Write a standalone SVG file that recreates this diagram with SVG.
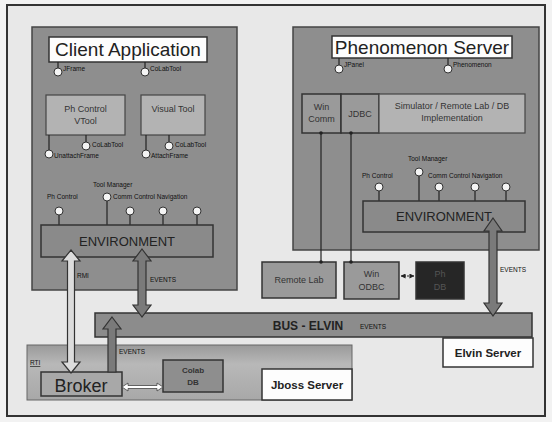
<svg xmlns="http://www.w3.org/2000/svg" width="552" height="422" viewBox="0 0 552 422">
  <style>
    text { font-family: "Liberation Sans", Arial, sans-serif; fill: #222; }
    .pane { fill: #8e8e8e; stroke: #444; stroke-width: 1.5; }
    .title { fill: #fdfdfd; stroke: #333; stroke-width: 1.5; }
    .comp { fill: #b3b3b3; stroke: #444; stroke-width: 1.2; }
    .env { fill: #8a8a8a; stroke: #333; stroke-width: 1.5; }
    .box { fill: #9a9a9a; stroke: #333; stroke-width: 1.5; }
    .lolli { fill: #f4f4f4; stroke: #333; stroke-width: 1; }
    .stem { stroke: #222; stroke-width: 1.2; fill: none; }
    .tiny { font-size: 6.5px; fill: #111; }
    .big { font-size: 19px; }
    .mid { font-size: 9px; text-anchor: middle; fill: #333; }
    .envt { font-size: 13px; text-anchor: middle; fill: #222; }
    .lab { font-size: 11.5px; font-weight: bold; text-anchor: middle; fill: #222; }
    .grayarrow { fill: #7a7a7a; stroke: #333; stroke-width: 1.2; }
    .lightarrow { fill: #dcdcdc; stroke: #333; stroke-width: 1.2; }
  </style>
  <defs>
    <linearGradient id="jbossGrad" x1="0" y1="0" x2="0" y2="1">
      <stop offset="0" stop-color="#9a9a9a"/>
      <stop offset="0.35" stop-color="#b8b8b8"/>
      <stop offset="1" stop-color="#a8a8a8"/>
    </linearGradient>
    <marker id="tip" viewBox="0 0 6 6" refX="5.5" refY="3" markerWidth="5" markerHeight="5" orient="auto-start-reverse">
      <path d="M0,0 L6,3 L0,6 z" fill="#222"/>
    </marker>
    <marker id="dot" viewBox="0 0 4 4" refX="2" refY="2" markerWidth="3" markerHeight="3">
      <circle cx="2" cy="2" r="2" fill="#222"/>
    </marker>
  </defs>

  <!-- page and frame -->
  <rect x="0" y="0" width="552" height="422" fill="#f2f2f2"/>
  <rect x="7" y="5" width="538" height="411" fill="#e8e8e8" stroke="#333" stroke-width="2"/>

  <!-- Client Application -->
  <g id="client-application">
    <rect class="pane" x="32" y="27" width="205" height="263"/>
    <rect class="title" x="49" y="37" width="158" height="25"/>
    <text class="big" x="128" y="56" text-anchor="middle">Client Application</text>
    <line class="stem" x1="58" y1="62" x2="58" y2="68"/>
    <circle class="lolli" cx="58" cy="72" r="4"/>
    <text class="tiny" x="63" y="71">JFrame</text>
    <line class="stem" x1="145" y1="62" x2="145" y2="68"/>
    <circle class="lolli" cx="145" cy="72" r="4"/>
    <text class="tiny" x="150" y="71">CoLabTool</text>
  </g>

  <g id="ph-control-vtool">
    <rect class="comp" x="46" y="95" width="79" height="40"/>
    <text class="mid" x="85.5" y="112">Ph Control</text>
    <text class="mid" x="85.5" y="124">VTool</text>
    <line class="stem" x1="49" y1="135" x2="49" y2="150"/>
    <circle class="lolli" cx="49" cy="154" r="4"/>
    <text class="tiny" x="54" y="158">UnattachFrame</text>
    <line class="stem" x1="86" y1="135" x2="86" y2="142"/>
    <circle class="lolli" cx="86" cy="146" r="4"/>
    <text class="tiny" x="92" y="147">CoLabTool</text>
  </g>

  <g id="visual-tool">
    <rect class="comp" x="141" y="95" width="64" height="40"/>
    <text class="mid" x="173" y="112">Visual Tool</text>
    <line class="stem" x1="146" y1="135" x2="146" y2="150"/>
    <circle class="lolli" cx="146" cy="154" r="4"/>
    <text class="tiny" x="151" y="158">AttachFrame</text>
    <line class="stem" x1="169" y1="135" x2="169" y2="142"/>
    <circle class="lolli" cx="169" cy="146" r="4"/>
    <text class="tiny" x="175" y="147">CoLabTool</text>
  </g>

  <g id="client-environment">
    <text class="tiny" x="93" y="187">Tool Manager</text>
    <text class="tiny" x="47" y="199">Ph Control</text>
    <text class="tiny" x="113" y="199">Comm  Control  Navigation</text>
    <line class="stem" x1="107" y1="201" x2="107" y2="225"/>
    <circle class="lolli" cx="107" cy="197" r="4"/>
    <line class="stem" x1="59" y1="215" x2="59" y2="225"/>
    <circle class="lolli" cx="59" cy="211" r="4"/>
    <line class="stem" x1="130" y1="215" x2="130" y2="225"/>
    <circle class="lolli" cx="130" cy="211" r="4"/>
    <line class="stem" x1="163" y1="215" x2="163" y2="225"/>
    <circle class="lolli" cx="163" cy="211" r="4"/>
    <line class="stem" x1="197" y1="215" x2="197" y2="225"/>
    <circle class="lolli" cx="197" cy="211" r="4"/>
    <rect class="env" x="41" y="225" width="172" height="32"/>
    <text class="envt" x="127" y="246">ENVIRONMENT</text>
  </g>

  <!-- Phenomenon Server -->
  <g id="phenomenon-server">
    <rect class="pane" x="293" y="27" width="246" height="223"/>
    <rect class="title" x="332" y="36" width="180" height="22"/>
    <text class="big" x="422" y="54" text-anchor="middle">Phenomenon Server</text>
    <line class="stem" x1="339" y1="58" x2="339" y2="65"/>
    <circle class="lolli" cx="339" cy="69" r="4"/>
    <text class="tiny" x="344" y="67">JPanel</text>
    <line class="stem" x1="448" y1="58" x2="448" y2="65"/>
    <circle class="lolli" cx="448" cy="69" r="4"/>
    <text class="tiny" x="453" y="67">Phenomenon</text>
  </g>

  <g id="win-comm">
    <rect class="box" x="302" y="94" width="39" height="39"/>
    <text class="mid" x="321.5" y="110">Win</text>
    <text class="mid" x="321.5" y="122">Comm</text>
  </g>
  <g id="jdbc">
    <rect class="box" x="341" y="94" width="38" height="39"/>
    <text class="mid" x="360" y="117">JDBC</text>
  </g>
  <g id="simulator">
    <rect class="comp" x="379" y="94" width="146" height="39"/>
    <text class="mid" x="452" y="109">Simulator / Remote Lab / DB</text>
    <text class="mid" x="452" y="121">Implementation</text>
  </g>

  <g id="phenomenon-environment">
    <text class="tiny" x="408" y="161">Tool Manager</text>
    <text class="tiny" x="362" y="178">Ph Control</text>
    <text class="tiny" x="428" y="178">Comm  Control  Navigation</text>
    <line class="stem" x1="419" y1="176" x2="419" y2="201"/>
    <circle class="lolli" cx="419" cy="172" r="4"/>
    <line class="stem" x1="379" y1="191" x2="379" y2="201"/>
    <circle class="lolli" cx="379" cy="187" r="4"/>
    <line class="stem" x1="439" y1="191" x2="439" y2="201"/>
    <circle class="lolli" cx="439" cy="187" r="4"/>
    <line class="stem" x1="475" y1="191" x2="475" y2="201"/>
    <circle class="lolli" cx="475" cy="187" r="4"/>
    <line class="stem" x1="506" y1="191" x2="506" y2="201"/>
    <circle class="lolli" cx="506" cy="187" r="4"/>
    <rect class="env" x="363" y="201" width="162" height="31"/>
    <text class="envt" x="444" y="221">ENVIRONMENT</text>
  </g>

  <g id="remote-lab">
    <rect class="box" x="262" y="262" width="74" height="36"/>
    <text class="mid" x="299" y="283">Remote Lab</text>
  </g>
  <g id="win-odbc">
    <rect class="box" x="344" y="262" width="55" height="37"/>
    <text class="mid" x="371.5" y="277">Win</text>
    <text class="mid" x="371.5" y="290">ODBC</text>
  </g>
  <g id="ph-db">
    <rect x="416" y="262" width="48" height="37" fill="#262626" stroke="#333" stroke-width="1.5"/>
    <text class="mid" x="440" y="277" style="fill:#555">Ph</text>
    <text class="mid" x="440" y="290" style="fill:#555">DB</text>
  </g>

  <!-- Elvin bus -->
  <g id="bus-elvin">
    <rect x="95" y="313" width="437" height="24" fill="#8c8c8c" stroke="#333" stroke-width="1.5"/>
    <text x="308" y="330" font-size="12" font-weight="bold" text-anchor="middle" fill="#222">BUS - ELVIN</text>
    <text class="tiny" x="360" y="329">EVENTS</text>
  </g>
  <g id="elvin-server">
    <rect class="title" x="443" y="338" width="90" height="29"/>
    <text class="lab" x="488" y="357">Elvin Server</text>
  </g>

  <!-- Jboss server band -->
  <g id="jboss">
    <rect x="27" y="345" width="325" height="55" fill="url(#jbossGrad)" stroke="#666" stroke-width="1"/>
    <text class="tiny" x="30" y="365" text-decoration="underline">RTI</text>
  </g>
  <g id="jboss-server">
    <rect class="title" x="262" y="369" width="90" height="31"/>
    <text class="lab" x="307" y="389">Jboss Server</text>
  </g>
  <g id="broker">
    <rect x="41" y="372" width="81" height="24" fill="#a8a8a8" stroke="#333" stroke-width="1.5"/>
    <text x="81" y="392" font-size="18" text-anchor="middle" fill="#333">Broker</text>
  </g>
  <g id="colab-db">
    <rect x="163" y="360" width="60" height="32" fill="#8e8e8e" stroke="#333" stroke-width="1.5"/>
    <text class="mid" x="193" y="373" style="font-size:8px;font-weight:bold">Colab</text>
    <text class="mid" x="193" y="385" style="font-size:8px;font-weight:bold">DB</text>
  </g>

  <!-- connectors -->
  <g id="connectors">
    <!-- Win Comm to Remote Lab, JDBC to Win ODBC -->
    <line class="stem" x1="321" y1="133" x2="321" y2="262" marker-start="url(#dot)" marker-end="url(#dot)"/>
    <line class="stem" x1="351" y1="133" x2="351" y2="262" marker-start="url(#dot)" marker-end="url(#dot)"/>
    <!-- Win ODBC to Ph DB -->
    <line x1="401" y1="276" x2="414" y2="276" stroke="#222" stroke-width="1" stroke-dasharray="2 1" marker-start="url(#tip)" marker-end="url(#tip)"/>

    <!-- RMI: client environment to broker -->
    <polygon class="lightarrow" points="71,250 80,261 74.5,261 74.5,362 80,362 71,373 62,362 67.5,362 67.5,261 62,261"/>
    <text class="tiny" x="77" y="278">RMI</text>

    <!-- EVENTS: client environment to bus -->
    <polygon class="grayarrow" points="142,249 151,261 146,261 146,305 151,305 142,317 133,305 138,305 138,261 133,261"/>
    <text class="tiny" x="150" y="282">EVENTS</text>

    <!-- EVENTS: phenomenon environment to bus -->
    <polygon class="grayarrow" points="493,218 502,231 497,231 497,303 502,303 493,316 484,303 489,303 489,231 484,231"/>
    <text class="tiny" x="500" y="272">EVENTS</text>

    <!-- EVENTS: broker to bus -->
    <polygon class="grayarrow" points="112,317 121,329 116,329 116,372 108,372 108,329 103,329"/>
    <text class="tiny" x="119" y="354">EVENTS</text>

    <!-- Broker to Colab DB -->
    <polygon points="122,387 128,383 128,385.5 157,385.5 157,383 163,387 157,391 157,388.5 128,388.5 128,391" fill="#ffffff" stroke="#444" stroke-width="0.8"/>
  </g>
</svg>
